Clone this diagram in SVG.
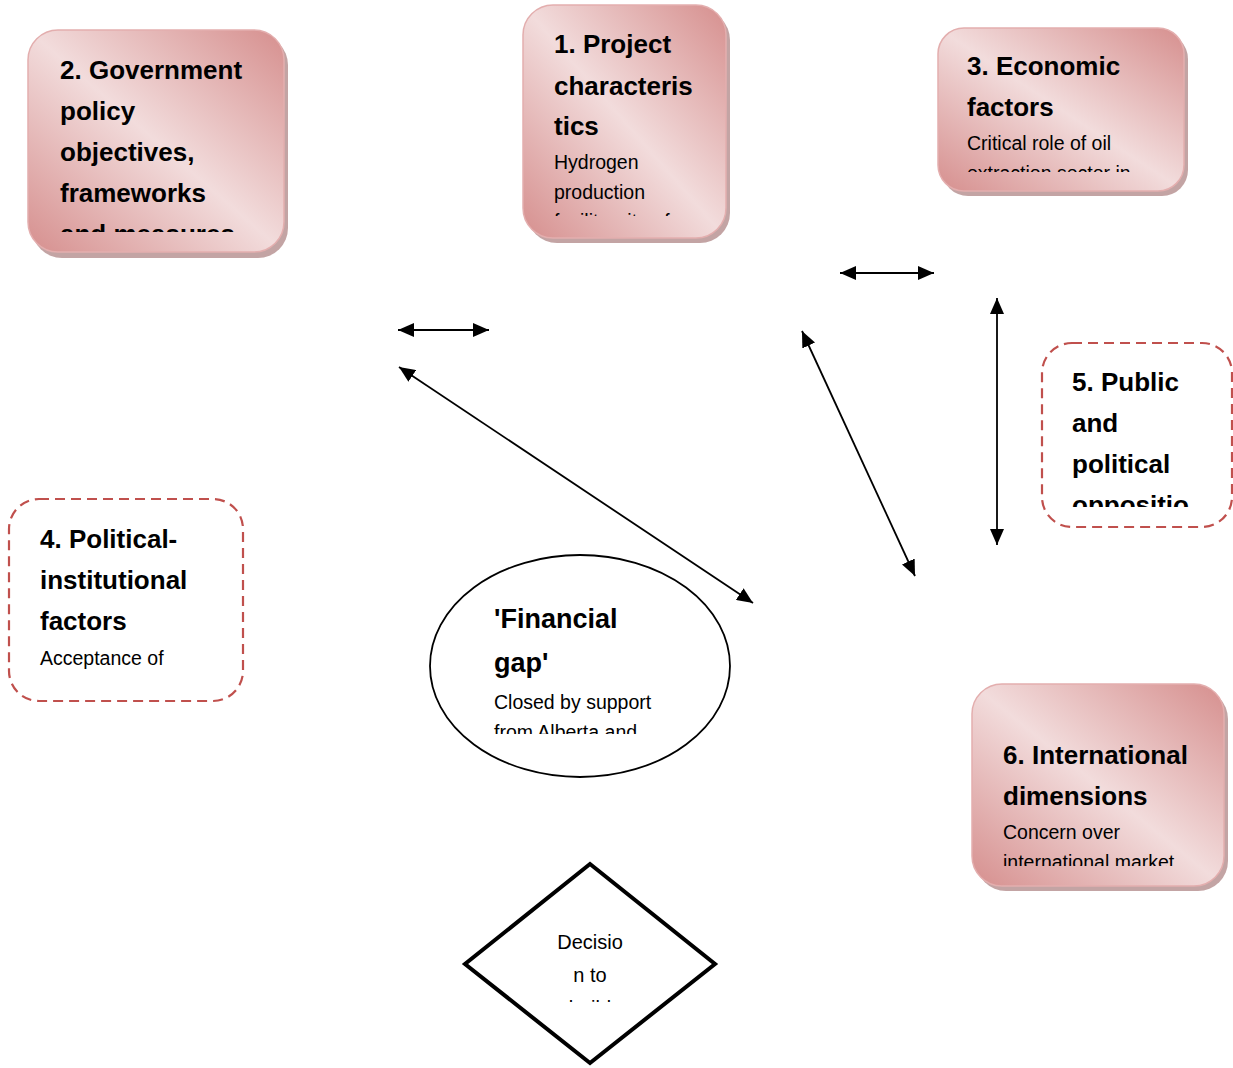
<svg xmlns="http://www.w3.org/2000/svg" width="1233" height="1068" viewBox="0 0 1233 1068">
<style>
.bg{fill:#ffffff}
.shadow{fill:#b99494;opacity:0.85}
.box{fill:url(#pinkGrad);stroke:#e3aeae;stroke-width:1.5}
.dash{fill:#ffffff;stroke:#c0504d;stroke-width:2.2;stroke-dasharray:10 6}
.title{font-family:"Liberation Sans",Arial,sans-serif;font-weight:bold;font-size:26px;fill:#000}
.body{font-family:"Liberation Sans",Arial,sans-serif;font-size:19.5px;fill:#000}
.conn{stroke:#000;stroke-width:1.8;fill:none;marker-start:url(#arr);marker-end:url(#arr)}
</style>
<defs>
<linearGradient id="pinkGrad" x1="1" y1="0" x2="0" y2="1">
<stop offset="0" stop-color="#d68f8e"/>
<stop offset="0.5" stop-color="#f2dcdc"/>
<stop offset="1" stop-color="#d68f8e"/>
</linearGradient>
<marker id="arr" markerUnits="userSpaceOnUse" viewBox="0 0 16 14" refX="16" refY="7" markerWidth="16" markerHeight="14" orient="auto-start-reverse">
<path d="M0,0 L16,7 L0,14 Z" fill="#000"/>
</marker>
<clipPath id="c2"><rect x="28" y="30" width="256" height="202"/></clipPath>
<clipPath id="c1"><rect x="523" y="5" width="203" height="211"/></clipPath>
<clipPath id="c3"><rect x="938" y="28" width="246" height="144"/></clipPath>
<clipPath id="c5"><rect x="1042" y="343" width="190" height="164"/></clipPath>
<clipPath id="c4"><rect x="9" y="499" width="234" height="181"/></clipPath>
<clipPath id="ce"><rect x="430" y="555" width="300" height="179"/></clipPath>
<clipPath id="c6"><rect x="972" y="684" width="252" height="182"/></clipPath>
<clipPath id="cd"><rect x="465" y="864" width="250" height="138"/></clipPath>
</defs>
<rect class="bg" x="0" y="0" width="1233" height="1068"/>

<g id="connectors">
<line class="conn" x1="398" y1="330" x2="489" y2="330"/>
<line class="conn" x1="399" y1="367" x2="753" y2="603"/>
<line class="conn" x1="840" y1="273" x2="934" y2="273"/>
<line class="conn" x1="802" y1="331" x2="915" y2="576"/>
<line class="conn" x1="997" y1="298" x2="997" y2="545"/>
</g>

<g id="node2">
<rect class="shadow" x="32" y="35" width="256" height="223" rx="30"/>
<rect class="box" x="28" y="30" width="256" height="222" rx="30"/>
<g clip-path="url(#c2)">
<text class="title" x="60" y="79">2. Government</text>
<text class="title" x="60" y="120">policy</text>
<text class="title" x="60" y="161">objectives,</text>
<text class="title" x="60" y="202">frameworks</text>
<text class="title" x="60" y="243">and measures</text>
</g>
</g>

<g id="node1">
<rect class="shadow" x="527" y="10" width="203" height="233" rx="30"/>
<rect class="box" x="523" y="5" width="203" height="233" rx="30"/>
<g clip-path="url(#c1)">
<text class="title" x="554" y="53">1. Project</text>
<text class="title" x="554" y="95">characteris</text>
<text class="title" x="554" y="135">tics</text>
<text class="body" x="554" y="169">Hydrogen</text>
<text class="body" x="554" y="199">production</text>
<text class="body" x="554" y="228">facility, site of</text>
</g>
</g>

<g id="node3">
<rect class="shadow" x="942" y="33" width="246" height="163" rx="26"/>
<rect class="box" x="938" y="28" width="246" height="163" rx="26"/>
<g clip-path="url(#c3)">
<text class="title" x="967" y="75">3. Economic</text>
<text class="title" x="967" y="116">factors</text>
<text class="body" x="967" y="150">Critical role of oil</text>
<text class="body" x="967" y="180">extraction sector in</text>
</g>
</g>

<g id="node5">
<rect class="dash" x="1042" y="343" width="190" height="184" rx="30"/>
<g clip-path="url(#c5)">
<text class="title" x="1072" y="391">5. Public</text>
<text class="title" x="1072" y="432">and</text>
<text class="title" x="1072" y="473">political</text>
<text class="title" x="1072" y="514">oppositio</text>
</g>
</g>

<g id="node4">
<rect class="dash" x="9" y="499" width="234" height="202" rx="30"/>
<g clip-path="url(#c4)">
<text class="title" x="40" y="548">4. Political-</text>
<text class="title" x="40" y="589">institutional</text>
<text class="title" x="40" y="630">factors</text>
<text class="body" x="40" y="665">Acceptance of</text>
<text class="body" x="40" y="695">climate policy in</text>
</g>
</g>

<g id="financialGap">
<ellipse cx="580" cy="666" rx="150" ry="111" fill="#fff" stroke="#000" stroke-width="1.8"/>
<g clip-path="url(#ce)">
<text class="title" x="494" y="628" style="font-size:27px">'Financial</text>
<text class="title" x="494" y="672" style="font-size:27px">gap'</text>
<text class="body" x="494" y="709">Closed by support</text>
<text class="body" x="494" y="739">from Alberta and</text>
</g>
</g>

<g id="node6">
<rect class="shadow" x="976" y="689" width="252" height="202" rx="30"/>
<rect class="box" x="972" y="684" width="252" height="202" rx="30"/>
<g clip-path="url(#c6)">
<text class="title" x="1003" y="764">6. International</text>
<text class="title" x="1003" y="805">dimensions</text>
<text class="body" x="1003" y="839">Concern over</text>
<text class="body" x="1003" y="869">international market</text>
</g>
</g>

<g id="decision">
<polygon points="590,864 715,964 590,1063 465,964" fill="#fff" stroke="#000" stroke-width="4" stroke-linejoin="miter"/>
<g clip-path="url(#cd)">
<text class="body" x="590" y="949" text-anchor="middle" style="font-size:20px">Decisio</text>
<text class="body" x="590" y="982" text-anchor="middle" style="font-size:20px">n to</text>
<text class="body" x="590" y="1015" text-anchor="middle" style="font-size:20px">build</text>
</g>
</g>
</svg>
